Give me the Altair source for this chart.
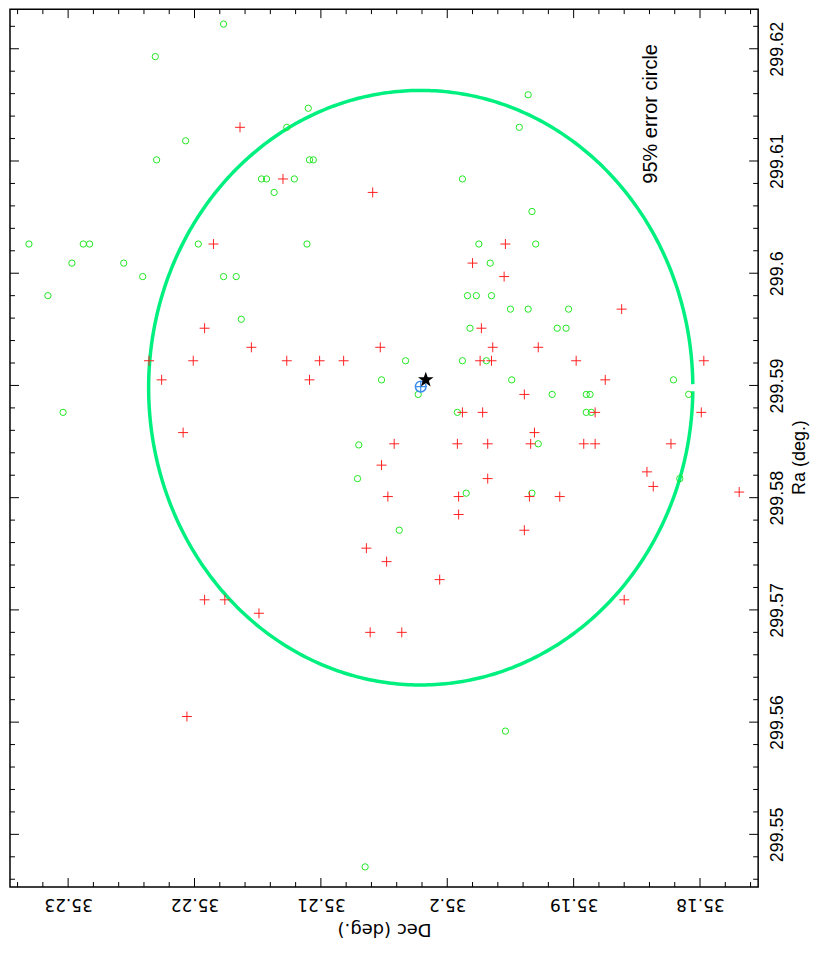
import altair as alt
import pandas as pd
import numpy as np

# ---------------- data ----------------
green_dec = [35.2177, 35.2231, 35.1936, 35.2110, 35.2127, 35.1943, 35.2207, 35.2230, 35.2109, 35.2106,
             35.2147, 35.2143, 35.2121, 35.1988, 35.2137, 35.1933, 35.2331, 35.2288, 35.2283, 35.2197,
             35.2111, 35.1975, 35.1930, 35.2297, 35.2256, 35.1966, 35.2241, 35.2177, 35.2167, 35.2316,
             35.1984, 35.1977, 35.1965, 35.1950, 35.1936, 35.1904, 35.2163, 35.1982, 35.1913, 35.1906,
             35.2033, 35.1988, 35.1969, 35.2052, 35.1949, 35.1821, 35.2023, 35.1917, 35.1890, 35.1887,
             35.1809, 35.2304, 35.1992, 35.1890, 35.1886, 35.2070, 35.1928, 35.2071, 35.1985, 35.1933,
             35.1816, 35.2038, 35.1954, 35.2065]
green_ra = [299.6222, 299.6193, 299.6159, 299.6147, 299.6130, 299.6130, 299.6118, 299.6101, 299.6101, 299.6101,
            299.6084, 299.6084, 299.6084, 299.6084, 299.6072, 299.6055, 299.6026, 299.6026, 299.6026, 299.6026,
            299.6026, 299.6026, 299.6026, 299.6009, 299.6009, 299.6009, 299.5997, 299.5997, 299.5997, 299.5980,
            299.5980, 299.5980, 299.5980, 299.5968, 299.5968, 299.5968, 299.5959, 299.5951, 299.5951, 299.5951,
            299.5922, 299.5922, 299.5922, 299.5905, 299.5905, 299.5905, 299.5892, 299.5892, 299.5892, 299.5892,
            299.5892, 299.5876, 299.5876, 299.5876, 299.5876, 299.5847, 299.5848, 299.5817, 299.5804, 299.5804,
            299.5817, 299.5771, 299.5592, 299.5471]

red_dec = [35.2164, 35.2130, 35.2059, 35.2185, 35.1954, 35.1980, 35.1955, 35.1862, 35.2192, 35.1973,
           35.2155, 35.2053, 35.1964, 35.1928, 35.2236, 35.2201, 35.2127, 35.2101, 35.2082, 35.1974,
           35.1965, 35.1898, 35.1797, 35.2226, 35.2109, 35.1875, 35.1939, 35.1988, 35.1972, 35.1883,
           35.1799, 35.2209, 35.1931, 35.2042, 35.1992, 35.1968, 35.1934, 35.1892, 35.1883, 35.1823,
           35.2052, 35.1968, 35.1842, 35.1837, 35.1769, 35.2047, 35.1991, 35.1935, 35.1911, 35.1991,
           35.1939, 35.2064, 35.2048, 35.2006, 35.2192, 35.2176, 35.1860, 35.2149, 35.2061, 35.2036,
           35.2206]
red_ra = [299.6130, 299.6084, 299.6072, 299.6026, 299.6026, 299.6009, 299.5997, 299.5968, 299.5951, 299.5951,
          299.5934, 299.5934, 299.5934, 299.5934, 299.5922, 299.5922, 299.5922, 299.5922, 299.5922, 299.5922,
          299.5922, 299.5922, 299.5922, 299.5905, 299.5905, 299.5905, 299.5892, 299.5876, 299.5876, 299.5876,
          299.5876, 299.5858, 299.5858, 299.5848, 299.5848, 299.5848, 299.5848, 299.5848, 299.5848, 299.5848,
          299.5829, 299.5817, 299.5823, 299.5810, 299.5805, 299.5801, 299.5801, 299.5801, 299.5801, 299.5785,
          299.5771, 299.5755, 299.5743, 299.5727, 299.5709, 299.5709, 299.5709, 299.5697, 299.5680, 299.5680,
          299.5605]

blue_dec = [35.2021]
blue_ra = [299.5899]
star_dec = [35.2017]
star_ra = [299.5905]

# 95% error circle: centre and radii (deg)
circle_dec0 = 35.2021
circle_ra0 = 299.5898
circle_rdec = 0.02153
circle_rra = 0.02649

label_text = ["95% error circle"]
label_dec = [35.1839]
label_ra = [299.6142]

dec_major = [35.18, 35.19, 35.2, 35.21, 35.22, 35.23]
dec_minor = [35.176, 35.178, 35.182, 35.184, 35.186, 35.188, 35.192, 35.194, 35.196, 35.198,
             35.202, 35.204, 35.206, 35.208, 35.212, 35.214, 35.216, 35.218, 35.222, 35.224,
             35.226, 35.228, 35.232, 35.234]
ra_major = [299.55, 299.56, 299.57, 299.58, 299.59, 299.6, 299.61, 299.62]
ra_minor = [299.546, 299.548, 299.552, 299.554, 299.556, 299.558, 299.562, 299.564, 299.566, 299.568,
            299.572, 299.574, 299.576, 299.578, 299.582, 299.584, 299.586, 299.588, 299.592, 299.594,
            299.596, 299.598, 299.602, 299.604, 299.606, 299.608, 299.612, 299.614, 299.616, 299.618,
            299.622]

# ---------------- chart ----------------
W, H = 750, 880
MAJ, MIN = 9, 5

xscale = alt.Scale(domain=[35.1754, 35.2346], reverse=True, nice=False, zero=False)
yscale = alt.Scale(domain=[299.54531, 299.62353], nice=False, zero=False)

xaxis = alt.Axis(orient="bottom", values=dec_major, labelExpr="format(datum.value, '.6~g')",
                 labelAngle=180, labelAlign="center", labelBaseline="alphabetic", labelPadding=12,
                 ticks=False, tickSize=0, domain=False, grid=False, labelFlush=False, labelOverlap=False,
                 labelFont="DejaVu Sans", labelFontSize=17, labelColor="black",
                 title="Dec (deg.)", titleAngle=180, titleBaseline="alphabetic", titleAlign="center",
                 titleFont="DejaVu Sans", titleFontSize=18, titleFontWeight="normal", titleColor="black",
                 titleX=W / 2, titleY=37)
yaxis = alt.Axis(orient="right", values=ra_major, labelExpr="format(datum.value, '.6~g')",
                 labelAngle=270, labelAlign="center", labelBaseline="alphabetic", labelPadding=24,
                 ticks=False, tickSize=0, domain=False, grid=False, labelFlush=False, labelOverlap=False,
                 labelFont="Liberation Sans", labelFontSize=18, labelColor="black",
                 title="Ra (deg.)", titleAngle=270, titleBaseline="alphabetic", titleAlign="center",
                 titleFont="Liberation Sans", titleFontSize=18, titleFontWeight="normal", titleColor="black",
                 titleX=46, titleY=449)


def X(f):
    return alt.X(f, type="quantitative", scale=xscale, axis=xaxis)


def Y(f):
    return alt.Y(f, type="quantitative", scale=yscale, axis=yaxis)


theta = np.linspace(0.012, 2 * np.pi - 0.012, 500)
ell_df = pd.DataFrame({
    "dec": circle_dec0 - circle_rdec * np.cos(theta),
    "ra": circle_ra0 + circle_rra * np.sin(theta),
    "k": np.arange(len(theta)),
})

green_df = pd.DataFrame({"dec": green_dec, "ra": green_ra})
red_df = pd.DataFrame({"dec": red_dec, "ra": red_ra})
blue_df = pd.DataFrame({"dec": blue_dec, "ra": blue_ra})
star_df = pd.DataFrame({"dec": star_dec, "ra": star_ra})
lab_df = pd.DataFrame({"dec": label_dec, "ra": label_ra, "t": label_text})

PLUS = "M-1,0L1,0M0,-1L0,1"
STAR = ("M0,-1L0.235,-0.324L0.951,-0.309L0.380,0.124L0.588,0.809L0,0.4"
        "L-0.588,0.809L-0.380,0.124L-0.951,-0.309L-0.235,-0.324Z")

ellipse = alt.Chart(ell_df).mark_line(color="#00f080", strokeWidth=3.5).encode(
    x=X("dec"), y=Y("ra"), order="k:Q")
greens = alt.Chart(green_df).mark_point(shape="circle", filled=False, color="#22e622",
                                        size=40, strokeWidth=1, opacity=1).encode(x=X("dec"), y=Y("ra"))
reds = alt.Chart(red_df).mark_point(shape=PLUS, filled=False, color="#ff2020",
                                    size=100, strokeWidth=1, opacity=1).encode(x=X("dec"), y=Y("ra"))
blue_c = alt.Chart(blue_df).mark_point(shape="circle", filled=False, color="#3a8ef0",
                                       size=115, strokeWidth=1.5, opacity=1).encode(x=X("dec"), y=Y("ra"))
blue_p = alt.Chart(blue_df).mark_point(shape=PLUS, filled=False, color="#3a8ef0",
                                       size=130, strokeWidth=1.2, opacity=1).encode(x=X("dec"), y=Y("ra"))
star = alt.Chart(star_df).mark_point(shape=STAR, filled=True, color="black",
                                     size=270, opacity=1).encode(x=X("dec"), y=Y("ra"))
label = alt.Chart(lab_df).mark_text(angle=270, fontSize=20, font="Liberation Sans", color="black",
                                    align="center", baseline="middle").encode(x=X("dec"), y=Y("ra"), text="t:N")


def xticks(vals, n):
    d = pd.DataFrame({"dec": vals})
    b = alt.Chart(d).mark_rule(color="black", strokeWidth=1).encode(
        x=X("dec"), y=alt.value(H), y2=alt.value(H - n))
    t = alt.Chart(d).mark_rule(color="black", strokeWidth=1).encode(
        x=X("dec"), y=alt.value(0), y2=alt.value(n))
    return [b, t]


def yticks(vals, n):
    d = pd.DataFrame({"ra": vals})
    r = alt.Chart(d).mark_rule(color="black", strokeWidth=1).encode(
        y=Y("ra"), x=alt.value(W), x2=alt.value(W - n))
    l = alt.Chart(d).mark_rule(color="black", strokeWidth=1).encode(
        y=Y("ra"), x=alt.value(0), x2=alt.value(n))
    return [r, l]


layers = [ellipse, greens, reds, blue_c, blue_p, star, label]
layers += xticks(dec_major, MAJ) + xticks(dec_minor, MIN)
layers += yticks(ra_major, MAJ) + yticks(ra_minor, MIN)

chart = alt.layer(*layers).properties(
    width=W, height=H,
    padding={"left": 2, "top": 0, "right": 64, "bottom": 57},
    autosize=alt.AutoSizeParams(type="none"),
    background="white",
).configure_view(stroke="black", strokeWidth=1.5)

chart.save("out.html", embed_options={"renderer": "svg", "actions": False})
